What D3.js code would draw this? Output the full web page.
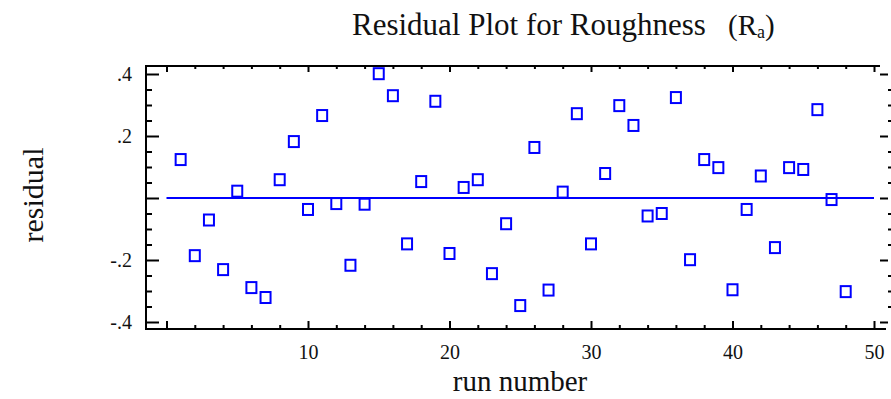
<!DOCTYPE html>
<html>
<head>
<meta charset="utf-8">
<script src="https://cdn.jsdelivr.net/npm/d3@7"></script>
<style>
  html, body { margin: 0; padding: 0; background: #fff; }
  svg { display: block; }
  text { font-family: "Liberation Serif", "Times New Roman", serif; fill: #111; }
</style>
</head>
<body>
<svg id="chart" width="891" height="399"></svg>
<script>
// ---- data ----
const runs = [1,2,3,4,5,6,7,8,9,10,11,12,13,14,15,16,17,18,19,20,21,22,23,24,
              25,26,27,28,29,30,31,32,33,34,35,36,37,38,39,40,41,42,43,44,45,46,47,48];
const residuals = [0.124,-0.186,-0.071,-0.231,0.022,-0.289,-0.321,0.059,0.182,-0.037,
                   0.266,-0.018,-0.217,-0.020,0.401,0.330,-0.148,0.053,0.312,-0.179,
                   0.034,0.059,-0.244,-0.083,-0.347,0.163,-0.297,0.019,0.272,-0.148,
                   0.079,0.298,0.234,-0.058,-0.050,0.324,-0.199,0.124,0.098,-0.296,
                   -0.037,0.071,-0.160,0.098,0.092,0.285,-0.005,-0.302];
const xMajorTicks = [0,10,20,30,40,50];
const xMinorTicks = [2,4,6,8,12,14,16,18,22,24,26,28,32,34,36,38,42,44,46,48];
const yMajorTicks = [-0.4,-0.2,0,0.2,0.4];
const yMinorTicks = [-0.35,-0.3,-0.25,-0.15,-0.1,-0.05,0.05,0.1,0.15,0.25,0.3,0.35];
const yTickLabels = {"-0.4":"-.4","-0.2":"-.2","0":"","0.2":".2","0.4":".4"};
const titleText = "Residual Plot for Roughness";
const xLabel = "run number";
const yLabel = "residual";

// ---- layout ----
const svg = d3.select("#chart");
const frame = {left: 146, right: 880, top: 66, bottom: 329};
const x = d3.scaleLinear().domain([0, 50]).range([166.5, 874]);
const y = d3.scaleLinear().domain([-0.4, 0.4]).range([322, 74]);
const blue = "#0000ff";

// frame lines (left, top, bottom)
const fg = svg.append("g").attr("stroke", "#000").attr("stroke-width", 2).attr("fill", "none");
fg.append("line").attr("x1", frame.left).attr("x2", frame.left).attr("y1", frame.top - 1).attr("y2", frame.bottom + 1);
fg.append("line").attr("x1", frame.left).attr("x2", frame.right).attr("y1", frame.top).attr("y2", frame.top);
fg.append("line").attr("x1", frame.left).attr("x2", 886).attr("y1", frame.bottom).attr("y2", frame.bottom);

function styleAxis(g, width) {
  g.select(".domain").remove();
  g.selectAll(".tick line").attr("stroke", "#000").attr("stroke-width", width);
  g.selectAll(".tick text").attr("font-size", 20).attr("fill", "#111")
    .attr("font-family", '"Liberation Serif", "Times New Roman", serif');
}

// left axis
svg.append("g").attr("transform", `translate(${frame.left},0)`)
  .call(d3.axisLeft(y).tickValues(yMinorTicks).tickSize(-6).tickFormat(""))
  .call(g => styleAxis(g, 2));
svg.append("g").attr("transform", `translate(${frame.left},0)`)
  .call(d3.axisLeft(y).tickValues(yMajorTicks).tickSize(-13).tickPadding(14)
    .tickFormat(d => yTickLabels[String(+d.toFixed(2))]))
  .call(g => styleAxis(g, 2));

// right axis ticks
svg.append("g").attr("transform", `translate(891,0)`)
  .call(d3.axisRight(y).tickValues(yMinorTicks).tickSize(-3).tickFormat(""))
  .call(g => styleAxis(g, 2));
svg.append("g").attr("transform", `translate(888,0)`)
  .call(d3.axisRight(y).tickValues(yMajorTicks).tickSize(-8).tickFormat(""))
  .call(g => styleAxis(g, 2));

// bottom axis
svg.append("g").attr("transform", `translate(0,${frame.bottom})`)
  .call(d3.axisBottom(x).tickValues(xMinorTicks).tickSize(-4).tickFormat(""))
  .call(g => styleAxis(g, 2));
svg.append("g").attr("transform", `translate(0,${frame.bottom})`)
  .call(d3.axisBottom(x).tickValues(xMajorTicks).tickSize(-8).tickPadding(16)
    .tickFormat(d => d === 0 ? "" : String(d)))
  .call(g => styleAxis(g, 2));

// top axis
svg.append("g").attr("transform", `translate(0,${frame.top})`)
  .call(d3.axisTop(x).tickValues(xMinorTicks).tickSize(-3).tickFormat(""))
  .call(g => styleAxis(g, 2));
svg.append("g").attr("transform", `translate(0,${frame.top})`)
  .call(d3.axisTop(x).tickValues(xMajorTicks).tickSize(-6).tickFormat(""))
  .call(g => styleAxis(g, 2));

// zero line
svg.append("line")
  .attr("x1", x(0)).attr("x2", x(50)).attr("y1", y(0)).attr("y2", y(0))
  .attr("stroke", blue).attr("stroke-width", 2);

// points
const mw = 10, mh = 11;
svg.append("g").selectAll("rect").data(runs).join("rect")
  .attr("x", (d) => x(d) - mw / 2)
  .attr("y", (d, i) => y(residuals[i]) - mh / 2)
  .attr("width", mw).attr("height", mh)
  .attr("fill", "none").attr("stroke", blue).attr("stroke-width", 2);

// title
const t = svg.append("text").attr("x", 352).attr("y", 35).attr("font-size", 31);
t.append("tspan").text(titleText);
const t2 = svg.append("text").attr("x", 728).attr("y", 35).attr("font-size", 29).attr("fill", "#333");
t2.append("tspan").text("(R");
t2.append("tspan").attr("font-size", 18).attr("dy", 3).text("a");
t2.append("tspan").attr("dy", -3).text(")");

// axis labels
svg.append("text").attr("x", 520).attr("y", 391).attr("text-anchor", "middle")
  .attr("font-size", 29).text(xLabel);
svg.append("text").attr("transform", "translate(43,195) rotate(-90)")
  .attr("text-anchor", "middle").attr("font-size", 30).text(yLabel);
</script>
</body>
</html>
